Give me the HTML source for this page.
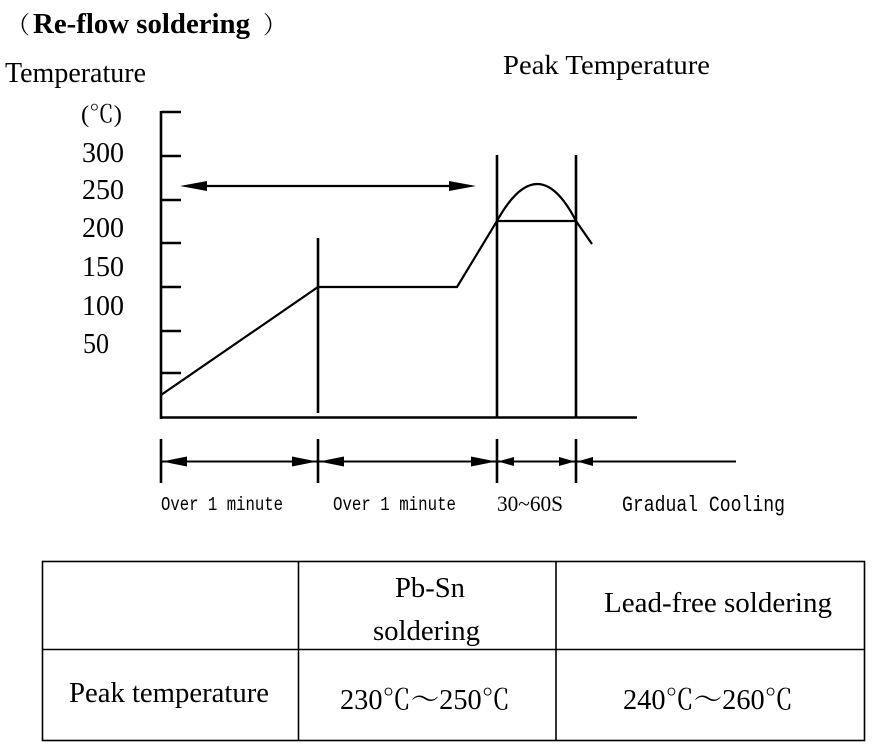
<!DOCTYPE html>
<html>
<head>
<meta charset="utf-8">
<style>
html,body{margin:0;padding:0;background:#fff;}
svg{display:block;}
.s{font-family:"Liberation Serif","Noto Serif CJK SC",serif;fill:#000;}
.m{font-family:"Liberation Mono","Noto Sans CJK SC",monospace;fill:#000;}
</style>
</head>
<body>
<svg width="876" height="749" viewBox="0 0 876 749" xmlns="http://www.w3.org/2000/svg">
<rect width="876" height="749" fill="#fff"/>
<!-- Title -->
<text class="s" x="6" y="33" font-size="24">（</text>
<text class="s" x="33" y="33" font-size="28" font-weight="bold" textLength="217" lengthAdjust="spacingAndGlyphs">Re-flow soldering</text>
<text class="s" x="263" y="33" font-size="24">）</text>

<text class="s" x="5" y="82" font-size="28" textLength="141" lengthAdjust="spacingAndGlyphs">Temperature</text>
<text class="s" x="503" y="74" font-size="27" textLength="207" lengthAdjust="spacingAndGlyphs">Peak Temperature</text>

<text class="s" x="81" y="122" font-size="24" textLength="41" lengthAdjust="spacingAndGlyphs">(℃)</text>
<g class="s" font-size="28">
<text x="82" y="162" textLength="42" lengthAdjust="spacingAndGlyphs">300</text>
<text x="82" y="199" textLength="42" lengthAdjust="spacingAndGlyphs">250</text>
<text x="82" y="237" textLength="42" lengthAdjust="spacingAndGlyphs">200</text>
<text x="82" y="276" textLength="42" lengthAdjust="spacingAndGlyphs">150</text>
<text x="82" y="315" textLength="42" lengthAdjust="spacingAndGlyphs">100</text>
<text x="83" y="353" textLength="26" lengthAdjust="spacingAndGlyphs">50</text>
</g>

<!-- Axes -->
<g stroke="#000" stroke-width="2.6" fill="none">
<line x1="161" y1="111" x2="161" y2="419"/>
<line x1="160" y1="417.5" x2="637" y2="417.5"/>
<line x1="161" y1="112" x2="181" y2="112"/>
<line x1="161" y1="156" x2="181" y2="156"/>
<line x1="161" y1="200" x2="181" y2="200"/>
<line x1="161" y1="243" x2="181" y2="243"/>
<line x1="161" y1="287" x2="181" y2="287"/>
<line x1="161" y1="331" x2="181" y2="331"/>
<line x1="161" y1="373" x2="181" y2="373"/>
<line x1="318" y1="238" x2="318" y2="413"/>
<line x1="497" y1="155" x2="497" y2="418"/>
<line x1="576" y1="155" x2="576" y2="418"/>
</g>

<!-- Profile curve -->
<g stroke="#000" stroke-width="2.2" fill="none">
<path d="M161,395 L318,287 L457,287 L497,221 Q538,147 576,221 L592,244"/>
<line x1="497" y1="221" x2="576" y2="221"/>
</g>

<!-- Top arrow -->
<line x1="195" y1="186" x2="460" y2="186" stroke="#000" stroke-width="2.2"/>
<polygon points="180,186 207,181 207,191" fill="#000"/>
<polygon points="476,186 449,181 449,191" fill="#000"/>

<!-- Bottom timeline -->
<g stroke="#000" stroke-width="2.6">
<line x1="161" y1="439" x2="161" y2="483"/>
<line x1="318" y1="439" x2="318" y2="483"/>
<line x1="497" y1="439" x2="497" y2="483"/>
<line x1="576" y1="439" x2="576" y2="483"/>
</g>
<line x1="161" y1="461.5" x2="736" y2="461.5" stroke="#000" stroke-width="2"/>
<g fill="#000">
<polygon points="162,461.5 187,456.5 187,466.5"/>
<polygon points="317,461.5 292,456.5 292,466.5"/>
<polygon points="319,461.5 344,456.5 344,466.5"/>
<polygon points="496,461.5 471,456.5 471,466.5"/>
<polygon points="498,461.5 514,457 514,466"/>
<polygon points="575,461.5 559,457 559,466"/>
<polygon points="577,461.5 593,457 593,466"/>
</g>
<text class="m" x="161" y="510" font-size="19" textLength="122" lengthAdjust="spacingAndGlyphs">Over 1 minute</text>
<text class="m" x="333" y="510" font-size="19" textLength="123" lengthAdjust="spacingAndGlyphs">Over 1 minute</text>
<text class="s" x="497" y="511" font-size="22" textLength="66" lengthAdjust="spacingAndGlyphs">30~60S</text>
<text class="m" x="622" y="511" font-size="22" textLength="163" lengthAdjust="spacingAndGlyphs">Gradual Cooling</text>

<!-- Table -->
<g stroke="#000" stroke-width="1.6" fill="none">
<rect x="42.5" y="561.5" width="822" height="179"/>
<line x1="42.5" y1="649.5" x2="864.5" y2="649.5"/>
<line x1="298.5" y1="561.5" x2="298.5" y2="740.5"/>
<line x1="556" y1="561.5" x2="556" y2="740.5"/>
</g>
<g class="s" font-size="28">
<text x="395" y="597" textLength="70" lengthAdjust="spacingAndGlyphs">Pb-Sn</text>
<text x="373" y="640" textLength="107" lengthAdjust="spacingAndGlyphs">soldering</text>
<text x="604" y="612" textLength="228" lengthAdjust="spacingAndGlyphs">Lead-free soldering</text>
<text x="69" y="702" textLength="200" lengthAdjust="spacingAndGlyphs">Peak temperature</text>
<text x="340" y="709" textLength="170" lengthAdjust="spacingAndGlyphs">230℃～250℃</text>
<text x="623" y="709" textLength="170" lengthAdjust="spacingAndGlyphs">240℃～260℃</text>
</g>
</svg>
</body>
</html>
